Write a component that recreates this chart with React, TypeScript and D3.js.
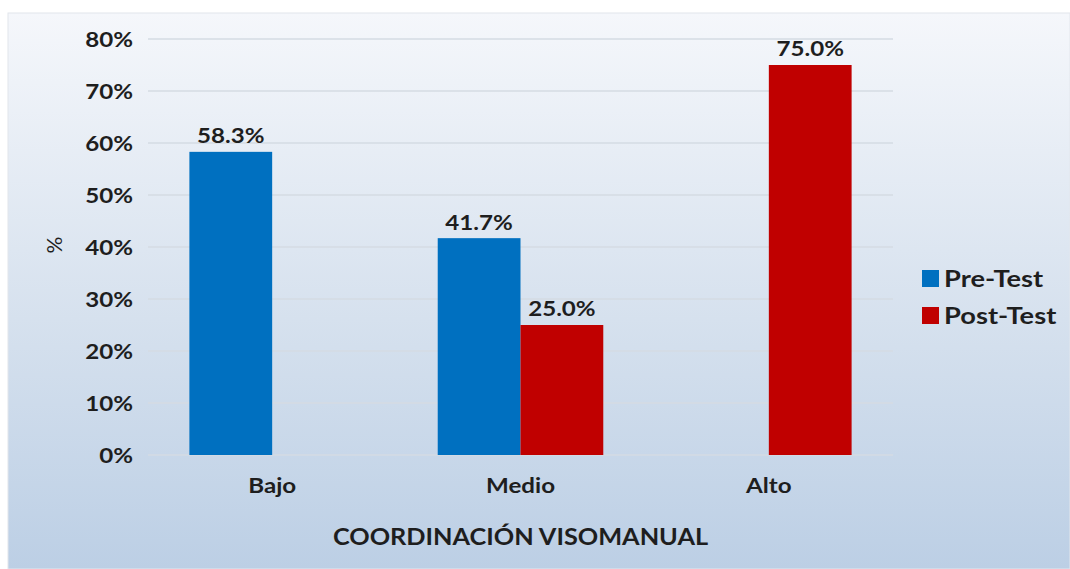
import React from 'react';
import * as d3 from 'd3';

const categories = ['Bajo', 'Medio', 'Alto'];
const seriesNames = ['Pre-Test', 'Post-Test'];
const preTest = [58.3, 41.7, 0];
const postTest = [0, 25.0, 75.0];
const yTicks = [0, 10, 20, 30, 40, 50, 60, 70, 80];
const colors = ['#0070c0', '#c00000'];

const W = 1070;
const H = 569;
const font = 'Lato, "Open Sans", sans-serif';

// the original font is wide, so labels are stretched a little sideways
const Label = ({ x, y, children, anchor = 'middle', size = 21, weight = 'bold', sx = 1.15 }: any) => (
    <g transform={`translate(${x},${y}) scale(${sx},1)`}>
        <text x={0} y={0} dy="0.35em" textAnchor={anchor} fontFamily={font}
            fontWeight={weight} fontSize={size} fill="#1e1e1e">{children}</text>
    </g>
);

const App = () => {
    const margin = { top: 39, left: 148, right: 1070 - 893, bottom: H - 455 };

    const x = d3.scaleBand<string>()
        .domain(categories)
        .range([margin.left, W - margin.right]);

    const inner = d3.scaleBand<string>()
        .domain(seriesNames)
        .range([0, x.bandwidth()])
        .paddingOuter(0.5)
        .paddingInner(0);

    const y = d3.scaleLinear()
        .domain([0, 80])
        .range([H - margin.bottom, margin.top]);

    const series = [preTest, postTest];

    return (
        <svg width={W} height={H} style={{ display: 'block', position: 'absolute', left: 0, top: 0 }}>
            <defs>
                <linearGradient id="bg" x1="0" y1="0" x2="0" y2="1">
                    <stop offset="0%" stopColor="#f5f7fb" />
                    <stop offset="55%" stopColor="#d6e1ee" />
                    <stop offset="100%" stopColor="#bccfe5" />
                </linearGradient>
            </defs>
            <rect x={0} y={0} width={W} height={H} fill="#ffffff" />
            <rect x={8} y={13} width={W - 8} height={H - 13} fill="url(#bg)" stroke="#e2e6ec" strokeWidth={1} />

            {/* gridlines */}
            {yTicks.map(t => (
                <line key={t} x1={margin.left} x2={W - margin.right} y1={y(t)} y2={y(t)}
                    stroke="#d5dbe3" strokeWidth={1.5} />
            ))}

            {/* y tick labels */}
            {yTicks.map(t => (
                <Label key={'l' + t} x={133} y={y(t) + 1} anchor="end">{t}%</Label>
            ))}

            {/* bars */}
            {categories.map((c, ci) => (
                <g key={c} transform={`translate(${x(c)},0)`}>
                    {series.map((s, si) => s[ci] > 0 ? (
                        <g key={si}>
                            <rect x={inner(seriesNames[si])} y={y(s[ci])}
                                width={inner.bandwidth()} height={y(0) - y(s[ci])}
                                fill={colors[si]} />
                            <Label x={(inner(seriesNames[si]) as number) + inner.bandwidth() / 2}
                                y={y(s[ci]) - 16}>{s[ci].toFixed(1)}%</Label>
                        </g>
                    ) : null)}
                    <Label x={x.bandwidth() / 2} y={486}>{c}</Label>
                </g>
            ))}

            {/* axis titles */}
            <Label x={(margin.left + W - margin.right) / 2} y={537} size={22} sx={1.15}>
                COORDINACIÓN VISOMANUAL
            </Label>
            <g transform={`translate(55,${(y(0) + y(80)) / 2 - 2}) rotate(-90)`}>
                <text dy="0.35em" textAnchor="middle" fontFamily={font} fontSize={21} fill="#1e1e1e">%</text>
            </g>

            {/* legend */}
            {seriesNames.map((n, i) => (
                <g key={n}>
                    <rect x={922} y={270 + i * 37} width={17} height={17} fill={colors[i]} />
                    <Label x={944} y={279 + i * 37} anchor="start" size={22} sx={1.24}>{n}</Label>
                </g>
            ))}
        </svg>
    );
};

export default App;
